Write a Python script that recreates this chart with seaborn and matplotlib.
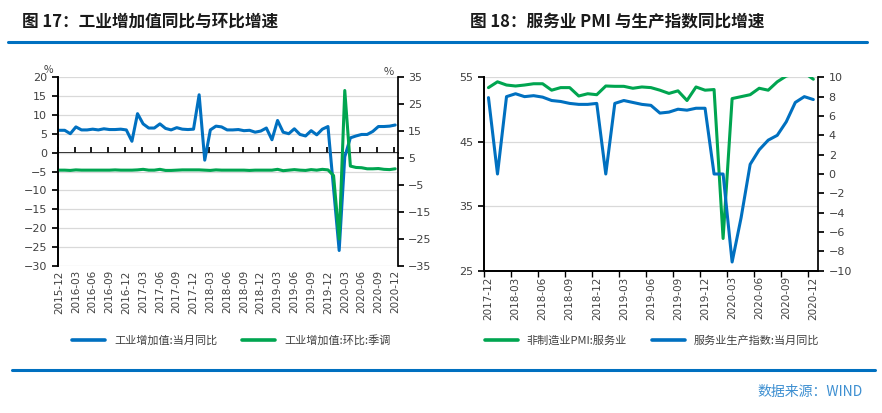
import matplotlib
matplotlib.use("Agg")
import matplotlib.pyplot as plt
from matplotlib.lines import Line2D
import seaborn as sns
import pandas as pd

# ------------------------------
# Data
# ------------------------------

# Fig 17: monthly, 2015-12 .. 2020-12
months_l = pd.period_range("2015-12", "2020-12", freq="M").strftime("%Y-%m").tolist()
ip_yoy = [5.9, 5.9, 5.0, 6.8, 6.0, 6.0, 6.2, 6.0, 6.3, 6.1, 6.1, 6.2, 6.0,
          3.0, 10.3, 7.6, 6.5, 6.5, 7.6, 6.4, 6.0, 6.6, 6.2, 6.1, 6.2,
          15.3, -2.0, 6.0, 7.0, 6.8, 6.0, 6.0, 6.1, 5.8, 5.9, 5.4, 5.7,
          6.5, 3.4, 8.5, 5.4, 5.0, 6.3, 4.8, 4.4, 5.8, 4.7, 6.2, 6.9,
          -9.5, -25.9, -1.1, 3.9, 4.4, 4.8, 4.8, 5.6, 6.9, 6.9, 7.0, 7.3]
ip_mom = [0.5, 0.5, 0.4, 0.6, 0.5, 0.5, 0.5, 0.5, 0.5, 0.5, 0.6, 0.5, 0.5,
          0.5, 0.6, 0.8, 0.5, 0.5, 0.8, 0.4, 0.4, 0.5, 0.6, 0.6, 0.6,
          0.6, 0.5, 0.4, 0.6, 0.5, 0.5, 0.5, 0.5, 0.5, 0.4, 0.5, 0.5,
          0.5, 0.5, 0.8, 0.3, 0.5, 0.7, 0.5, 0.4, 0.7, 0.5, 0.8, 0.6,
          -1.5, -25.0, 30.0, 2.0, 1.5, 1.4, 1.0, 1.0, 1.1, 0.8, 0.7, 1.0]

# Fig 18: monthly, 2017-12 .. 2020-12
months_r = pd.period_range("2017-12", "2020-12", freq="M").strftime("%Y-%m").tolist()
pmi_services = [53.4, 54.3, 53.8, 53.65, 53.8, 54.0, 54.0, 53.0, 53.4, 53.4, 52.1, 52.45, 52.3,
                53.65, 53.6, 53.6, 53.3, 53.5, 53.4, 53.0, 52.5, 52.9, 51.4, 53.5, 53.0,
                53.1, 30.0, 51.7, 52.0, 52.3, 53.3, 53.0, 54.3, 55.2, 55.5, 55.7, 54.7]
services_prod_yoy = [7.9, 0.0, 8.0, 8.3, 8.0, 8.1, 7.95, 7.6, 7.5, 7.3, 7.2, 7.2, 7.3,
                     0.0, 7.3, 7.6, 7.4, 7.2, 7.1, 6.3, 6.4, 6.7, 6.6, 6.8, 6.8,
                     0.0, 0.0, -9.1, -4.5, 1.0, 2.5, 3.5, 4.0, 5.4, 7.4, 8.0, 7.7]

df_l = pd.DataFrame({"i": range(len(months_l)), "yoy": ip_yoy, "mom": ip_mom})
df_r = pd.DataFrame({"i": range(len(months_r)), "pmi": pmi_services, "prod": services_prod_yoy})

BLUE = "#0070C0"
GREEN = "#00A550"
GRID = "#D9D9D9"
TXT = "#404040"

sns.set_theme(style="white")
plt.rcParams["font.family"] = ["Noto Sans CJK SC", "DejaVu Sans"]
plt.rcParams["axes.edgecolor"] = "black"

fig = plt.figure(figsize=(8.82, 4.13), dpi=100)

# ------------------------------
# Header / footer decorations
# ------------------------------
fig.text(22 / 882, 1 - 22 / 413, "图 17：工业增加值同比与环比增速", fontsize=12,
         fontweight="bold", va="center", ha="left", color="#1a1a1a")
fig.text(470 / 882, 1 - 22 / 413, "图 18：服务业 PMI 与生产指数同比增速", fontsize=12,
         fontweight="bold", va="center", ha="left", color="#1a1a1a")
fig.add_artist(Line2D([8 / 882, 867 / 882], [1 - 42 / 413] * 2, color=BLUE, lw=2.2))
fig.add_artist(Line2D([12 / 882, 875 / 882], [1 - 370 / 413] * 2, color=BLUE, lw=2.2))
fig.text(863 / 882, 1 - 392 / 413, "数据来源：WIND", fontsize=10, color="#3D8FD1",
         ha="right", va="center")

tick_font = {"family": "DejaVu Sans", "size": 7.5}

# ------------------------------
# Fig 17
# ------------------------------
ax1 = fig.add_axes([57.7 / 882, 1 - 266 / 413, 340 / 882, 189 / 413])
sns.lineplot(data=df_l, x="i", y="yoy", ax=ax1, color=BLUE, lw=2.2)
ax1.set_ylim(-30, 20)
ax1.set_yticks(range(-30, 21, 5))
ax1.set_xlim(-0.25, 60.45)
ax1.set_xticks(range(0, 61, 3))
ax1.set_xticklabels(months_l[::3], rotation=90, fontdict=tick_font, color=TXT)
ax1.tick_params(axis="x", length=0, pad=3)
ax1.tick_params(axis="y", left=True, length=4, direction="out", colors="black",
                labelcolor=TXT, labelsize=8)
for lab in ax1.get_yticklabels():
    lab.set_family("DejaVu Sans")
ax1.yaxis.grid(True, color=GRID, lw=0.9)
ax1.set_xlabel("")
ax1.set_ylabel("")
ax1.spines["top"].set_visible(False)
ax1.spines["bottom"].set_visible(False)
ax1.spines["right"].set_visible(False)

# zero-line x axis with tick marks
sec = ax1.secondary_xaxis(30 / 50)
sec.set_xticks([k - 0.25 for k in range(0, 61, 3)])
sec.set_xticklabels([])
sec.tick_params(direction="out", length=4, color="black")
sec.spines["bottom"].set_color("black")

ax2 = ax1.twinx()
sns.lineplot(data=df_l, x="i", y="mom", ax=ax2, color=GREEN, lw=2.2)
ax2.set_ylim(-35, 35)
ax2.set_yticks(range(-35, 36, 10))
ax2.tick_params(axis="y", right=True, length=4, direction="out", colors="black",
                labelcolor=TXT, labelsize=8)
for lab in ax2.get_yticklabels():
    lab.set_family("DejaVu Sans")
ax2.set_ylabel("")
ax2.spines["top"].set_visible(False)
ax2.spines["bottom"].set_visible(False)
ax2.spines["left"].set_color("black")
ax2.spines["right"].set_color("black")

fig.text(48 / 882, 1 - 70 / 413, "%", fontsize=7.5, ha="center", va="center", color=TXT)
fig.text(389 / 882, 1 - 72 / 413, "%", fontsize=8, ha="center", va="center", color=TXT)

fig.legend(handles=[Line2D([], [], color=BLUE, lw=2.6), Line2D([], [], color=GREEN, lw=2.6)],
           labels=["工业增加值:当月同比", "工业增加值:环比:季调"],
           loc="center", bbox_to_anchor=(231 / 882, 1 - 340 / 413), ncol=2, frameon=False,
           fontsize=8, handlelength=3, columnspacing=2.2, labelcolor=TXT)

# ------------------------------
# Fig 18
# ------------------------------
ax3 = fig.add_axes([483.5 / 882, 1 - 270.7 / 413, 334.8 / 882, 193.4 / 413])
sns.lineplot(data=df_r, x="i", y="pmi", ax=ax3, color=GREEN, lw=2.2)
ax3.set_ylim(25, 55)
ax3.set_yticks([25, 35, 45, 55])
ax3.set_xlim(-0.55, 36.55)
ax3.set_xticks(range(0, 37, 3))
ax3.set_xticklabels(months_r[::3], rotation=90, fontdict=tick_font, color=TXT)
ax3.set_xticks([k - 0.55 for k in range(0, 37, 3)], minor=True)
ax3.tick_params(axis="x", which="major", length=0, pad=4)
ax3.tick_params(axis="x", which="minor", bottom=True, length=4, direction="out", color="black")
ax3.tick_params(axis="y", left=True, length=4, direction="out", colors="black",
                labelcolor=TXT, labelsize=8)
for lab in ax3.get_yticklabels():
    lab.set_family("DejaVu Sans")
ax3.yaxis.grid(True, color=GRID, lw=0.9)
ax3.set_xlabel("")
ax3.set_ylabel("")
ax3.spines["top"].set_visible(False)
ax3.spines["right"].set_visible(False)

ax4 = ax3.twinx()
sns.lineplot(data=df_r, x="i", y="prod", ax=ax4, color=BLUE, lw=2.2)
ax4.set_ylim(-10, 10)
ax4.set_yticks(range(-10, 11, 2))
ax4.tick_params(axis="y", right=True, length=4, direction="out", colors="black",
                labelcolor=TXT, labelsize=8)
for lab in ax4.get_yticklabels():
    lab.set_family("DejaVu Sans")
ax4.set_ylabel("")
ax4.spines["top"].set_visible(False)
for s in ["left", "right", "bottom"]:
    ax4.spines[s].set_color("black")

fig.legend(handles=[Line2D([], [], color=GREEN, lw=2.6), Line2D([], [], color=BLUE, lw=2.6)],
           labels=["非制造业PMI:服务业", "服务业生产指数:当月同比"],
           loc="center", bbox_to_anchor=(652 / 882, 1 - 341 / 413), ncol=2, frameon=False,
           fontsize=8, handlelength=3, columnspacing=2.2, labelcolor=TXT)

fig.savefig("out.png", dpi=100)
